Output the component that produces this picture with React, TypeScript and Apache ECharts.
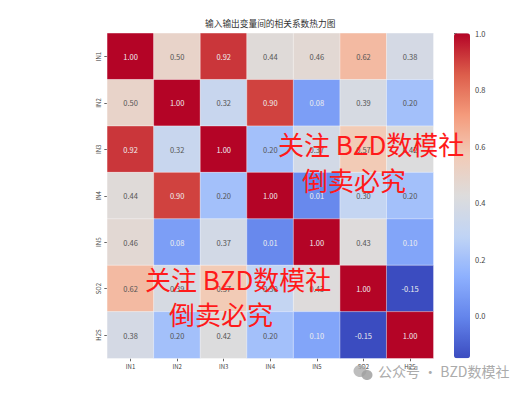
import React, { useEffect, useRef } from "react";
import * as echarts from "echarts";

const categories = ["IN1", "IN2", "IN3", "IN4", "IN5", "SO2", "H2S"];
const in1 = [1.0, 0.5, 0.92, 0.44, 0.46, 0.62, 0.38];
const in2 = [0.5, 1.0, 0.32, 0.9, 0.08, 0.39, 0.2];
const in3 = [0.92, 0.32, 1.0, 0.2, 0.37, 0.57, 0.42];
const in4 = [0.44, 0.9, 0.2, 1.0, 0.01, 0.3, 0.2];
const in5 = [0.46, 0.08, 0.37, 0.01, 1.0, 0.43, 0.1];
const so2 = [0.62, 0.39, 0.57, 0.3, 0.43, 1.0, -0.15];
const h2s = [0.38, 0.2, 0.42, 0.2, 0.1, -0.15, 1.0];
const matrix = [in1, in2, in3, in4, in5, so2, h2s];
const colorbarTicks = [0, 0.2, 0.4, 0.6, 0.8, 1.0];
const coolwarm = ["#3b4cc0", "#6384eb", "#8db0fe", "#c0d4f5", "#dddcdc", "#f2cbb7", "#f49a7b", "#dc5d4a", "#b40426"];
const titleText = "输入输出变量间的相关系数热力图";
const stampLine1 = "关注 BZD数模社";
const stampLine2 = "倒卖必究";
const footerText = "公众号 · BZD数模社";

const CJK = '"Noto Sans CJK SC", "Noto Sans", sans-serif';

export default function App() {
  const ref = useRef<HTMLDivElement>(null);
  useEffect(() => {
    const chart = echarts.init(ref.current!, undefined, { renderer: "svg" });
    const cells: any[] = [];
    matrix.forEach((row, y) =>
      row.forEach((v, x) =>
        cells.push({
          value: [x, y, v],
          label: { color: v > 0.85 || v < 0.15 ? "#eeeeee" : "#555555" },
        })
      )
    );
    const stamp = (x: number, y: number, text: string) => ({
      type: "text",
      x,
      y,
      z: 100,
      style: { text, fill: "#ff1a1a", font: `26px ${CJK}`, textVerticalAlign: "top" },
    });
    chart.setOption({
      animation: false,
      backgroundColor: "#ffffff",
      title: {
        text: titleText,
        left: 205,
        top: 19,
        padding: 0,
        textStyle: { fontFamily: CJK, fontSize: 8.7, fontWeight: "normal", color: "#333333" },
      },
      grid: [
        { left: 107.3, top: 33.3, width: 326, height: 325 },
        { left: 454, top: 33.3, width: 16, height: 325 },
      ],
      xAxis: [
        {
          type: "category",
          data: categories,
          gridIndex: 0,
          axisLine: { show: false },
          axisTick: { show: true, alignWithLabel: true, length: 3, lineStyle: { color: "#666666" } },
          axisLabel: { fontFamily: CJK, fontSize: 6, color: "#444444", margin: 5, interval: 0 },
          splitArea: { show: false },
          splitLine: { show: false },
        },
        { type: "value", gridIndex: 1, show: false },
      ],
      yAxis: [
        {
          type: "category",
          data: categories,
          inverse: true,
          gridIndex: 0,
          axisLine: { show: false },
          axisTick: { show: true, alignWithLabel: true, length: 3, lineStyle: { color: "#666666" } },
          axisLabel: { fontFamily: CJK, fontSize: 6, color: "#444444", rotate: 90, margin: 6, interval: 0 },
          splitArea: { show: false },
          splitLine: { show: false },
        },
        {
          type: "value",
          gridIndex: 1,
          position: "right",
          min: -0.15,
          max: 1,
          axisLine: { show: false },
          splitLine: { show: false },
          axisTick: { show: true, length: 3, customValues: colorbarTicks, lineStyle: { color: "#666666" } },
          axisLabel: {
            fontFamily: CJK,
            fontSize: 7.5,
            color: "#444444",
            margin: 5,
            customValues: colorbarTicks,
            formatter: (v: number) => v.toFixed(1),
          },
        },
      ],
      visualMap: {
        type: "continuous",
        min: -0.15,
        max: 1,
        seriesIndex: 0,
        calculable: false,
        hoverLink: false,
        showLabel: false,
        text: ["", ""],
        left: 454,
        top: 33.3,
        padding: 0,
        itemWidth: 16,
        itemHeight: 325,
        inRange: { color: coolwarm },
      },
      series: [
        {
          type: "heatmap",
          xAxisIndex: 0,
          yAxisIndex: 0,
          data: cells,
          label: {
            show: true,
            fontFamily: CJK,
            fontSize: 7.5,
            textBorderWidth: 0,
            textShadowBlur: 0,
            formatter: (p: any) => p.value[2].toFixed(2),
          },
          itemStyle: { borderColor: "rgba(255,255,255,0.4)", borderWidth: 1 },
        },
      ],
      graphic: [
        stamp(278, 130, stampLine1),
        stamp(302, 166, stampLine2),
        stamp(145, 265, stampLine1),
        stamp(169, 300, stampLine2),
        { type: "ellipse", z: 90, shape: { cx: 360, cy: 371, rx: 6.5, ry: 6 }, style: { fill: "#a8a8a8", opacity: 0.75 } },
        { type: "ellipse", z: 91, shape: { cx: 367, cy: 375, rx: 5.5, ry: 5 }, style: { fill: "#a0a0a0", opacity: 0.85 } },
        {
          type: "text",
          x: 378,
          y: 364,
          z: 90,
          style: { text: footerText, fill: "#ababab", font: `14px ${CJK}`, textVerticalAlign: "top" },
        },
      ],
    });
    return () => chart.dispose();
  }, []);
  return <div ref={ref} style={{ position: "absolute", left: 0, top: 0, width: 530, height: 395 }} />;
}
